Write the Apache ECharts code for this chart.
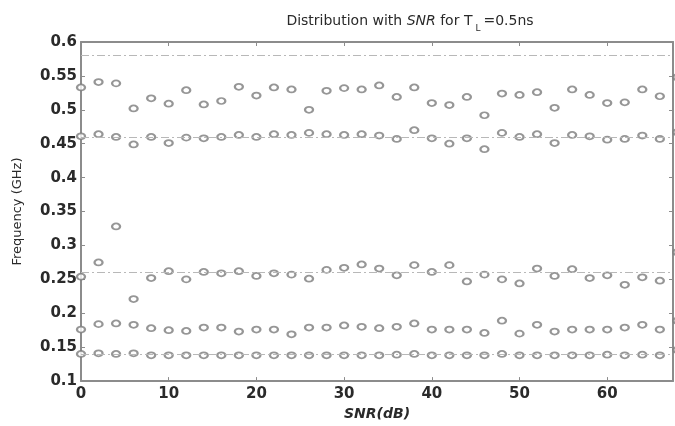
<!DOCTYPE html>
<html>
<head>
<meta charset="utf-8">
<script src="https://cdn.jsdelivr.net/npm/echarts@6/dist/echarts.min.js"></script>
<style>
  html, body { margin: 0; padding: 0; background: #fff; }
  #chart { width: 675px; height: 426px; }
</style>
</head>
<body>
<div id="chart"></div>
<script>
// SNR sweep (dB)
const snr = [0, 2, 4, 6, 8, 10, 12, 14, 16, 18, 20, 22, 24, 26, 28, 30, 32, 34,
             36, 38, 40, 42, 44, 46, 48, 50, 52, 54, 56, 58, 60, 62, 64, 66, 68];

// Estimated resonance frequencies (GHz), one array per mode
const mode1 = [0.533, 0.541, 0.539, 0.502, 0.517, 0.509, 0.529, 0.508, 0.513, 0.534, 0.521, 0.533,
               0.530, 0.500, 0.528, 0.532, 0.530, 0.536, 0.519, 0.533, 0.510, 0.507, 0.519, 0.492,
               0.524, 0.522, 0.526, 0.503, 0.530, 0.522, 0.510, 0.511, 0.530, 0.520, 0.548];
const mode2 = [0.461, 0.464, 0.460, 0.449, 0.460, 0.451, 0.459, 0.458, 0.460, 0.463, 0.460, 0.464,
               0.463, 0.466, 0.464, 0.463, 0.464, 0.462, 0.457, 0.470, 0.458, 0.450, 0.458, 0.442,
               0.466, 0.460, 0.464, 0.451, 0.463, 0.461, 0.456, 0.457, 0.462, 0.457, 0.467];
const mode3 = [0.254, 0.275, 0.328, 0.221, 0.252, 0.262, 0.250, 0.261, 0.259, 0.262, 0.255, 0.259,
               0.257, 0.251, 0.264, 0.267, 0.272, 0.266, 0.256, 0.271, 0.261, 0.271, 0.247, 0.257,
               0.250, 0.244, 0.266, 0.255, 0.265, 0.252, 0.256, 0.242, 0.253, 0.248, 0.290];
const mode4 = [0.176, 0.184, 0.185, 0.183, 0.178, 0.175, 0.174, 0.179, 0.179, 0.173, 0.176, 0.176,
               0.169, 0.179, 0.179, 0.182, 0.180, 0.178, 0.180, 0.185, 0.176, 0.176, 0.176, 0.171,
               0.189, 0.170, 0.183, 0.173, 0.176, 0.176, 0.176, 0.179, 0.183, 0.176, 0.189];
const mode5 = [0.140, 0.141, 0.140, 0.141, 0.138, 0.138, 0.138, 0.138, 0.138, 0.138, 0.138, 0.138,
               0.138, 0.138, 0.138, 0.138, 0.138, 0.138, 0.139, 0.140, 0.138, 0.138, 0.138, 0.138,
               0.140, 0.138, 0.138, 0.138, 0.138, 0.138, 0.139, 0.138, 0.139, 0.138, 0.146];

// True frequencies, drawn as dash-dot reference lines
const trueFreqs = [0.58, 0.46, 0.26, 0.14];

// Axis ticks
const xTicks = { min: 0, max: 67.5, step: 10 };
const yTicks = { min: 0.1, max: 0.6, step: 0.05 };

const AXIS_GRAY = '#8c8c8c';
const MARK_GRAY = '#7c7c7c';
const TEXT = '#2a2a2a';
const FONT = 'DejaVu Sans';

const modes = [mode1, mode2, mode3, mode4, mode5];

function pairs(ys) {
  return snr.map((x, i) => [x, ys[i]]);
}

const tickLabel = {
  fontFamily: FONT, fontSize: 15, fontWeight: 'bold', color: TEXT
};

function xAxisDef(pos, withLabels) {
  return {
    type: 'value', position: pos,
    min: xTicks.min, max: xTicks.max, interval: xTicks.step,
    axisLine: { show: true, onZero: false, lineStyle: { color: AXIS_GRAY, width: 2 } },
    axisTick: { show: true, inside: true, length: 4, lineStyle: { color: AXIS_GRAY, width: 1 } },
    axisLabel: Object.assign({ show: withLabels, margin: 6, showMaxLabel: false }, tickLabel),
    splitLine: { show: false }
  };
}

function yAxisDef(pos, withLabels) {
  return {
    type: 'value', position: pos,
    min: yTicks.min, max: yTicks.max, interval: yTicks.step,
    axisLine: { show: true, onZero: false, lineStyle: { color: AXIS_GRAY, width: 2 } },
    axisTick: { show: true, inside: true, length: 4, lineStyle: { color: AXIS_GRAY, width: 1 } },
    axisLabel: Object.assign({
      show: withLabels, margin: 4,
      formatter: v => String(parseFloat(v.toFixed(2)))
    }, tickLabel),
    splitLine: { show: false }
  };
}

const xBottom = xAxisDef('bottom', true);
xBottom.name = 'SNR(dB)';
xBottom.nameLocation = 'middle';
xBottom.nameGap = 21;
xBottom.nameTextStyle = { fontFamily: FONT, fontSize: 14, fontWeight: 'bold', fontStyle: 'italic', color: TEXT };

const yLeft = yAxisDef('left', true);
yLeft.name = 'Frequency (GHz)';
yLeft.nameLocation = 'middle';
yLeft.nameGap = 57;
yLeft.nameTextStyle = { fontFamily: FONT, fontSize: 13, color: TEXT };

const series = modes.map((ys, k) => ({
  type: 'scatter',
  xAxisIndex: 0, yAxisIndex: 0,
  clip: false,
  symbol: 'emptyCircle',
  symbolSize: [8, 6],
  itemStyle: { color: MARK_GRAY, borderColor: MARK_GRAY, borderWidth: 1.1 },
  data: pairs(ys),
  z: 3,
  markLine: k === 0 ? {
    silent: true,
    symbol: ['none', 'none'],
    label: { show: false },
    lineStyle: { color: '#b8b8b8', width: 1, type: [8, 3, 2, 3] },
    data: trueFreqs.map(v => ({ yAxis: v }))
  } : undefined
}));

const chart = echarts.init(document.getElementById('chart'), null, { renderer: 'canvas' });
chart.setOption({
  animation: false,
  backgroundColor: '#fff',
  title: {
    text: '{a|Distribution with }{i|SNR}{a| for T}{s|L}{a|=0.5ns}',
    left: 405, top: 9, textAlign: 'center',
    textStyle: {
      fontWeight: 'normal',
      rich: {
        a: { fontFamily: FONT, fontSize: 14, fontWeight: 'normal', color: TEXT, verticalAlign: 'top', lineHeight: 17 },
        i: { fontFamily: FONT, fontSize: 14, fontWeight: 'normal', fontStyle: 'italic', color: TEXT, verticalAlign: 'top', lineHeight: 17 },
        s: { fontFamily: FONT, fontSize: 9, fontWeight: 'normal', color: TEXT, verticalAlign: 'top', lineHeight: 10, padding: [10, 3, 0, 3] }
      }
    }
  },
  grid: { left: 81, top: 42, right: 2, bottom: 34, containLabel: false },
  xAxis: [xBottom, xAxisDef('top', false)],
  yAxis: [yLeft, yAxisDef('right', false)],
  series: series
});
</script>
</body>
</html>
